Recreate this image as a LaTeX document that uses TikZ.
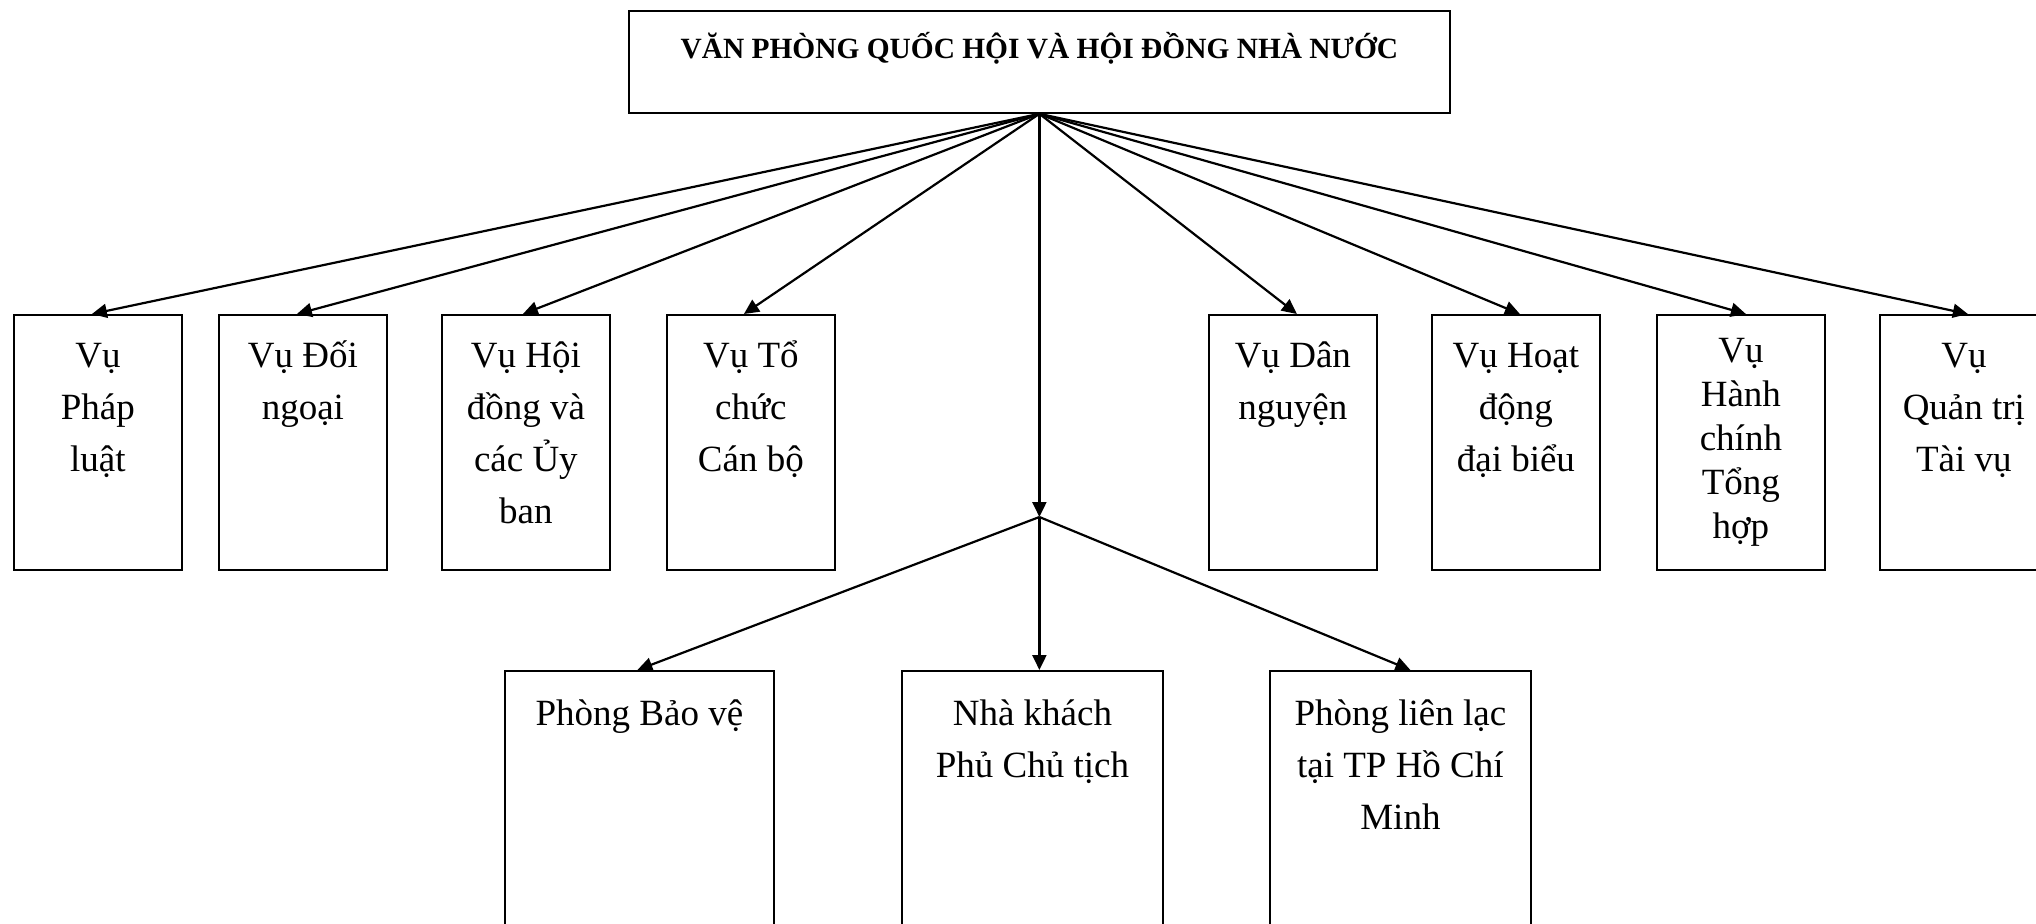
\documentclass[tikz,border=0pt]{standalone}
\usepackage{fontspec}
\setmainfont{Liberation Serif}
\usetikzlibrary{arrows.meta}

% text set at the top of a box: #1 box height, #2 box width, #3 first baseline, #4 lines
\newcommand{\boxtext}[4]{\parbox[c][#1][t]{#2}{\centering\rule{0pt}{#3}#4}}

\begin{document}
\begin{tikzpicture}[x=0.5pt,y=-0.5pt,
    every node/.style={inner sep=0pt,font=\fontsize{18.5}{26}\selectfont},
    unit/.style={draw,line width=0.9pt,anchor=north west},
    link/.style={line width=1.1pt,-{Triangle[length=7.5pt,width=7pt]}}]
    \useasboundingbox (0,0) rectangle (2036,923);
    % top box
    \node[unit,font=\fontsize{14.7}{18}\selectfont\bfseries] (vanphong) at (628,10)
        {\boxtext{51pt}{410.5pt}{24pt}{VĂN PHÒNG QUỐC HỘI VÀ HỘI ĐỒNG NHÀ NƯỚC}};
    % departments
    \node[unit] (phapluat) at (13,314) {\boxtext{127.5pt}{84pt}{26.5pt}{Vụ\\Pháp\\luật}};
    \node[unit] (doingoai) at (218,314) {\boxtext{127.5pt}{84pt}{26.5pt}{Vụ Đối\\ngoại}};
    \node[unit] (hoidong) at (441,314) {\boxtext{127.5pt}{84pt}{26.5pt}{Vụ Hội\\đồng và\\các Ủy\\ban}};
    \node[unit] (tochuc) at (666,314) {\boxtext{127.5pt}{84pt}{26.5pt}{Vụ Tổ\\chức\\Cán bộ}};
    \node[unit] (dannguyen) at (1208,314) {\boxtext{127.5pt}{84pt}{26.5pt}{Vụ Dân\\nguyện}};
    \node[unit] (hoatdong) at (1431,314) {\boxtext{127.5pt}{84pt}{26.5pt}{Vụ Hoạt\\động\\đại biểu}};
    \node[unit,font=\fontsize{18.5}{22}\selectfont] (hanhchinh) at (1656,314)
        {\boxtext{127.5pt}{84pt}{24pt}{Vụ\\Hành\\chính\\Tổng\\hợp}};
    \node[unit] (quantri) at (1879,314) {\boxtext{127.5pt}{84pt}{26.5pt}{Vụ\\Quản trị\\Tài vụ}};
    % lower units
    \coordinate (hub) at (vanphong.south |- 0,517);
    \node[unit] (baove) at (504,670) {\boxtext{150pt}{134.5pt}{27.5pt}{Phòng Bảo vệ}};
    \node[unit] (nhakhach) at (901,670) {\boxtext{150pt}{130.5pt}{27.5pt}{Nhà khách\\Phủ Chủ tịch}};
    \node[unit] (lienlac) at (1269,670) {\boxtext{150pt}{130.5pt}{27.5pt}{Phòng liên lạc\\tại TP Hồ Chí\\Minh}};
    % arrows
    \foreach \n/\d in {phapluat/-6,doingoai/-6,hoidong/-3,tochuc/-7,dannguyen/4,hoatdong/4,hanhchinh/5,quantri/4}
        \draw[link] (vanphong.south) -- ([xshift=\d*0.5pt]\n.north);
    \draw[link] (vanphong.south) -- (hub);
    \draw[link] (hub) -- ([xshift=-1pt]baove.north);
    \draw[link] (hub) -- (hub |- nhakhach.north);
    \draw[link] (hub) -- ([xshift=5pt]lienlac.north);
\end{tikzpicture}
\end{document}
